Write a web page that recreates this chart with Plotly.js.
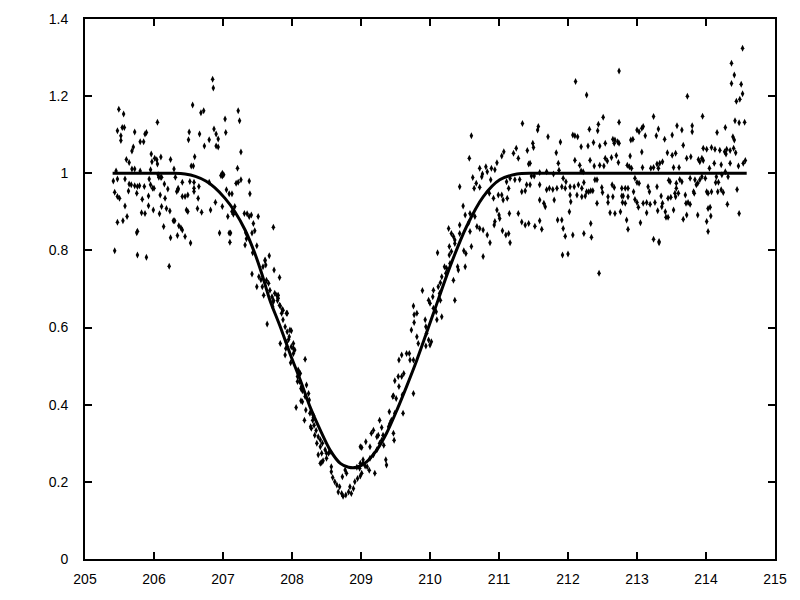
<!DOCTYPE html>
<html>
<head>
<meta charset="utf-8">
<script src="https://cdn.plot.ly/plotly-3.0.1.min.js"></script>
<style>html,body{margin:0;padding:0;background:#fff}#chart{width:800px;height:600px}</style>
</head>
<body>
<div id="chart"></div>
<script>
// Observed points: left plateau and start of descent
var leftX = [206.85,206.86,205.49,205.56,206.05,206.56,206.68,206.72,207.22,207.24,207.03,205.47,205.54,205.57,205.52,205.52,205.72,205.87,205.89,205.80,205.85,205.70,205.68,206.51,206.50,206.66,206.73,206.80,206.87,206.90,206.93,206.90,206.93,207.04,207.26,206.59,205.60,205.64,205.68,205.72,205.96,205.97,206.01,206.04,206.05,206.10,206.24,206.54,206.57,206.29,207.21,207.01,206.99,205.45,205.80,205.95,206.06,206.11,205.41,205.47,205.58,205.64,205.67,205.72,205.76,205.79,205.86,205.93,205.95,205.98,206.00,206.07,206.10,206.15,206.20,206.31,206.35,206.41,206.52,206.58,206.58,206.65,206.80,206.99,206.97,207.05,207.09,207.13,207.19,207.22,207.26,207.38,207.39,205.43,205.47,205.50,205.58,205.63,205.75,205.83,205.92,205.92,205.82,205.87,205.99,206.08,206.09,206.11,206.16,206.18,206.23,206.33,206.35,206.41,206.45,206.49,206.47,206.49,206.58,206.63,206.64,206.69,206.82,206.89,206.99,207.07,207.13,207.15,207.17,207.31,207.35,207.38,207.41,207.44,207.46,207.51,205.47,205.55,205.61,205.75,205.76,206.14,206.28,206.30,206.36,206.39,206.41,206.34,206.24,206.45,206.53,207.09,207.11,206.95,207.10,207.33,207.34,207.42,207.49,207.32,207.43,205.43,205.76,205.89,206.22,207.42,207.52,207.55,207.49];
var leftY = [1.244,1.221,1.166,1.154,1.132,1.177,1.157,1.162,1.162,1.136,1.141,1.110,1.119,1.119,1.097,1.085,1.107,1.102,1.106,1.082,1.082,1.068,1.058,1.107,1.087,1.102,1.071,1.087,1.115,1.102,1.089,1.071,1.068,1.106,1.055,1.043,1.036,1.028,1.011,1.011,1.050,1.030,1.039,1.035,1.024,1.042,1.036,1.019,1.019,1.011,1.013,0.996,0.993,1.006,1.006,1.009,0.996,0.990,0.980,0.985,0.985,0.972,0.970,0.968,0.966,0.968,0.966,0.985,0.970,0.961,0.961,0.990,0.990,0.972,0.959,0.990,0.961,0.977,0.979,0.977,0.961,0.966,0.977,1.000,0.994,0.957,0.947,0.947,0.974,0.977,0.983,0.980,0.947,0.951,0.940,0.935,0.915,0.954,0.948,0.933,0.941,0.916,0.898,0.896,0.905,0.895,0.944,0.914,0.935,0.909,0.902,0.953,0.957,0.940,0.940,0.944,0.905,0.901,0.953,0.909,0.935,0.899,0.905,0.925,0.914,0.888,0.901,0.894,0.914,0.896,0.895,0.888,0.892,0.870,0.851,0.888,0.873,0.877,0.888,0.846,0.850,0.862,0.877,0.877,0.864,0.859,0.853,0.839,0.833,0.836,0.819,0.845,0.845,0.845,0.821,0.846,0.830,0.845,0.812,0.814,0.794,0.799,0.788,0.782,0.759,0.739,0.732,0.724,0.706];

// Observed points: descent, minimum and start of rise
var dipX = [207.73,207.67,207.61,207.74,207.82,207.57,207.59,207.75,207.80,207.79,207.83,207.86,207.92,207.72,207.73,207.64,207.97,207.99,207.83,207.90,207.91,208.02,208.02,208.04,207.98,208.19,208.09,208.12,208.11,208.08,208.14,208.21,208.24,208.13,208.15,208.06,208.20,208.28,208.31,208.30,208.18,208.27,208.28,208.33,208.38,208.36,208.41,208.43,208.38,208.41,208.43,208.45,208.50,208.53,208.55,208.57,208.57,208.59,208.62,208.65,208.69,208.67,208.72,208.74,208.78,208.82,208.84,208.86,208.89,208.91,208.95,208.99,209.01,208.98,208.94,208.79,208.73,208.77,208.99,209.01,209.07,209.13,209.15,209.18,209.23,209.25,209.27,209.30,209.33,209.36,209.37,209.20,209.12,209.09,209.06,209.03,209.41,209.42,209.47,209.48,209.46,209.47,209.51,209.49,209.54,209.59,209.62,209.60,209.61,209.55,209.55,209.59,209.66,209.70,209.71,209.76,209.76,209.73,209.77,209.77,209.81,209.76,209.81,209.83,207.61,207.62,207.58,207.78,207.80,207.82,207.87,207.93,207.95,207.92,208.08,208.11,208.13,208.15,208.19,208.25,208.26,208.31,208.32,208.35,208.41,208.44,208.48,208.50,207.63,207.66,207.68,207.71,207.73,207.85,207.87,207.90,207.93,207.96,207.99,208.02,208.99,209.03,209.13,209.18,209.23,209.27,209.30,209.32,209.40,209.44,209.49];
var dipY = [0.860,0.786,0.773,0.749,0.730,0.706,0.684,0.689,0.684,0.670,0.656,0.647,0.637,0.654,0.671,0.609,0.594,0.592,0.559,0.529,0.546,0.559,0.546,0.542,0.509,0.518,0.490,0.481,0.460,0.460,0.447,0.451,0.429,0.410,0.408,0.393,0.386,0.382,0.373,0.360,0.360,0.343,0.339,0.321,0.317,0.300,0.291,0.274,0.270,0.248,0.250,0.255,0.261,0.274,0.278,0.239,0.226,0.211,0.200,0.192,0.187,0.174,0.170,0.163,0.166,0.174,0.187,0.170,0.183,0.200,0.209,0.215,0.222,0.235,0.238,0.222,0.213,0.231,0.291,0.289,0.304,0.291,0.326,0.334,0.317,0.321,0.360,0.341,0.295,0.257,0.244,0.222,0.230,0.239,0.241,0.248,0.382,0.352,0.326,0.308,0.421,0.423,0.416,0.462,0.473,0.473,0.481,0.425,0.378,0.447,0.516,0.529,0.533,0.533,0.516,0.516,0.429,0.594,0.613,0.633,0.637,0.656,0.576,0.559,0.775,0.762,0.758,0.684,0.676,0.658,0.645,0.637,0.569,0.561,0.473,0.483,0.442,0.436,0.421,0.412,0.378,0.367,0.347,0.333,0.309,0.300,0.283,0.274,0.723,0.715,0.697,0.680,0.667,0.637,0.620,0.602,0.589,0.576,0.550,0.533,0.248,0.257,0.261,0.270,0.283,0.300,0.308,0.321,0.343,0.360,0.378];

// Observed points: rise back to the plateau
var riseX = [209.89,209.93,209.94,209.95,209.98,210.02,210.00,209.94,210.05,210.04,209.98,210.00,210.05,210.09,210.10,210.17,210.15,210.14,210.12,210.15,210.17,210.21,210.24,210.23,210.29,210.28,210.31,210.36,210.40,210.41,210.36,210.34,210.11,210.27,210.31,210.34,210.36,210.28,210.43,210.43,210.48,210.51,210.56,210.58,210.52,210.49,210.60,210.51,210.43,210.57,210.60,210.62,210.64,210.67,210.72,210.72,210.76,210.75,210.81,210.83,210.88,210.89,210.94,210.97,210.58,210.65,210.68,210.72,210.77,210.83,210.87,210.77,210.86,210.92,210.99,211.04,211.06,211.12,211.14,211.00,211.01,210.94,210.93,210.97,211.05,211.10,211.14,211.16,211.15,211.04,211.07,211.11,211.16,211.21,211.23,211.25,211.28,211.30,211.34,211.38,211.41,211.43,211.45,211.49,211.50,211.51,211.56,211.57,211.59,211.59,211.65,211.67,211.69,211.71,211.73,211.78,211.80,211.83,211.84,211.86,211.87,211.85,211.33,211.28,211.33,211.38,211.43,211.52,211.59,211.62,211.40,211.45,211.47,211.59,211.69,211.79];
var riseY = [0.696,0.620,0.602,0.585,0.568,0.563,0.555,0.552,0.697,0.680,0.671,0.663,0.650,0.641,0.620,0.628,0.671,0.689,0.706,0.716,0.732,0.758,0.754,0.741,0.766,0.788,0.797,0.827,0.758,0.749,0.671,0.723,0.794,0.857,0.844,0.836,0.818,0.810,0.866,0.844,0.915,0.892,0.872,0.849,0.792,0.799,0.810,0.758,0.965,1.039,1.097,0.989,0.961,0.974,0.964,1.013,0.998,0.991,1.017,1.004,0.983,1.013,1.009,1.027,0.896,0.888,0.862,0.857,0.853,0.840,0.820,0.784,0.948,0.935,0.944,0.944,0.931,0.935,0.961,0.892,0.883,0.875,0.866,0.905,0.851,0.840,0.844,0.820,0.896,1.045,1.056,0.978,0.987,1.052,0.983,1.065,1.039,0.984,1.129,0.955,1.059,1.024,1.026,1.078,1.067,0.993,1.112,1.121,0.970,0.931,0.922,0.913,0.957,1.095,0.961,0.958,0.931,1.053,0.961,1.026,1.008,0.879,0.952,0.896,0.874,0.866,0.870,0.863,0.877,0.855,0.970,0.970,0.993,1.002,1.004,0.998];

// Observed points: right plateau
var rightX = [212.11,212.27,212.74,212.51,212.44,212.43,212.31,212.74,213.24,213.31,212.07,212.10,212.14,211.89,212.19,212.29,212.37,212.46,212.54,212.65,212.68,212.72,212.74,212.91,212.94,213.00,213.03,213.07,213.09,213.12,213.28,212.67,212.10,212.17,212.32,212.38,212.46,212.52,212.54,212.57,212.63,212.70,212.73,212.90,213.07,212.86,212.89,212.92,213.08,213.20,213.24,213.29,213.31,212.19,212.22,211.93,211.97,211.91,211.96,212.03,212.09,212.15,212.20,212.23,212.27,212.30,212.33,212.36,212.39,212.42,212.49,212.50,212.64,212.67,212.78,212.83,212.87,212.97,213.00,213.03,213.16,213.18,213.29,212.03,212.13,212.20,212.25,212.58,212.65,212.78,212.80,212.87,212.95,213.00,213.09,213.14,213.19,213.26,212.04,212.42,212.58,212.79,212.83,212.97,212.61,212.68,212.76,213.02,213.14,213.30,212.02,211.93,211.96,212.07,212.23,212.33,212.34,212.85,212.87,213.05,213.24,213.32,211.92,212.00,212.45,211.91,
 214.53,214.37,214.41,214.37,214.51,214.53,214.44,214.49,214.42,214.48,214.56,213.95,213.73,214.28,214.39,214.41,214.16,213.80,213.80,213.58,213.65,213.40,213.51,213.67,213.44,213.51,213.56,213.72,213.78,213.96,214.01,214.08,214.13,214.20,214.27,214.30,214.29,214.35,214.40,214.43,214.54,214.57,213.33,213.37,213.53,213.61,213.89,213.91,213.94,213.96,214.12,214.22,214.35,214.47,213.46,213.48,213.57,213.62,213.65,213.77,213.84,213.86,213.88,213.91,213.99,214.05,214.15,214.23,214.28,214.32,213.94,213.57,213.55,213.60,213.70,213.82,213.83,214.01,214.03,214.08,214.14,214.18,214.17,214.22,214.25,214.45,213.35,213.37,213.36,213.45,213.49,213.56,213.71,213.74,213.77,214.03,214.06,214.07,214.01,214.03,213.88,213.72,213.67,213.53,213.41,213.42,213.45,214.31,214.48,213.32];
var rightY = [1.238,1.203,1.265,1.145,1.127,1.110,1.114,1.132,1.147,1.115,1.099,1.097,1.095,1.081,1.069,1.071,1.080,1.071,1.078,1.088,1.086,1.082,1.078,1.086,1.088,1.112,1.108,1.117,1.121,1.097,1.097,1.078,1.034,1.021,1.034,1.019,1.021,1.019,1.039,1.032,1.041,1.046,1.028,1.045,1.055,1.021,1.017,1.013,1.015,1.013,1.015,1.024,1.013,1.006,1.004,0.987,0.978,0.965,0.961,0.965,0.965,0.970,0.961,0.976,0.952,0.952,0.955,0.955,0.983,0.983,0.963,0.950,0.970,0.963,0.961,0.961,0.961,0.987,0.976,0.974,0.965,0.952,0.965,0.944,0.944,0.939,0.941,0.939,0.939,0.941,0.941,0.939,0.952,0.924,0.922,0.924,0.920,0.924,0.926,0.922,0.924,0.924,0.922,0.932,0.898,0.896,0.900,0.912,0.898,0.903,0.900,0.857,0.837,0.840,0.844,0.870,0.834,0.879,0.855,0.872,0.829,0.820,0.788,0.791,0.741,0.879,
 1.324,1.285,1.255,1.233,1.231,1.206,1.187,1.192,1.136,1.131,1.132,1.148,1.200,1.119,1.095,1.086,1.106,1.123,1.108,1.123,1.112,1.088,1.099,1.073,1.053,1.047,1.052,1.039,1.043,1.065,1.062,1.067,1.062,1.060,1.056,1.062,1.050,1.059,1.065,1.053,1.026,1.033,1.026,1.030,1.015,1.015,1.036,1.030,1.039,1.033,1.026,1.022,1.026,1.019,0.982,0.978,0.974,0.984,0.978,0.987,0.983,0.970,0.974,0.983,0.987,1.013,0.991,0.996,1.004,0.991,0.991,0.961,0.948,0.948,0.944,0.952,0.948,0.952,0.948,0.952,0.976,0.977,0.952,0.957,0.950,0.958,0.941,0.922,0.913,0.935,0.938,0.939,0.922,0.924,0.920,0.909,0.912,0.889,0.875,0.849,0.892,0.892,0.881,0.905,0.900,0.886,0.886,0.920,0.896,0.823];

// Fitted curve
var fitX = [205.40,206.00,206.30,206.45,206.60,206.75,206.88,207.03,207.17,207.32,207.46,207.56,207.68,207.83,207.97,208.12,208.26,208.41,208.55,208.70,208.82,208.94,209.08,209.23,209.37,209.52,209.66,209.81,210.05,210.29,210.53,210.77,211.01,211.26,211.50,212.50,213.50,214.59];
var fitY = [1.0,1.0,1.0,0.998,0.992,0.980,0.963,0.935,0.901,0.853,0.793,0.741,0.671,0.602,0.533,0.464,0.395,0.334,0.283,0.248,0.238,0.238,0.252,0.283,0.326,0.386,0.447,0.516,0.637,0.758,0.862,0.939,0.983,0.998,1.0,1.0,1.0,1.0];

var xTicks = [205,206,207,208,209,210,211,212,213,214,215];
var yTicks = [0,0.2,0.4,0.6,0.8,1,1.2,1.4];
var yTickText = ['0','0.2','0.4','0.6','0.8','1','1.2','1.4'];

var obsX = leftX.concat(dipX, riseX, rightX);
var obsY = leftY.concat(dipY, riseY, rightY);

var traces = [
  {x: obsX, y: obsY, type: 'scatter', mode: 'markers',
   marker: {symbol: 'diamond-tall', size: 5, color: '#000', line: {width: 0}},
   hoverinfo: 'skip'},
  {x: fitX, y: fitY, type: 'scatter', mode: 'lines',
   line: {color: '#000', width: 3, shape: 'spline', smoothing: 0.8},
   hoverinfo: 'skip'}
];

var axisCommon = {
  showgrid: false, zeroline: false, showline: true, linecolor: '#000', linewidth: 2,
  mirror: 'ticks', ticks: 'inside', ticklen: 7, tickwidth: 2, tickcolor: '#000',
  tickfont: {family: 'Liberation Sans, Arial, sans-serif', size: 14, color: '#000'}
};

var layout = {
  width: 800, height: 600,
  paper_bgcolor: '#fff', plot_bgcolor: '#fff',
  showlegend: false,
  margin: {l: 85, r: 25, t: 19, b: 41},
  xaxis: Object.assign({}, axisCommon, {range: [205, 215], tickvals: xTicks, ticktext: xTicks.map(String), ticklabelstandoff: 6}),
  yaxis: Object.assign({}, axisCommon, {range: [0, 1.4], tickvals: yTicks, ticktext: yTickText, ticklabelstandoff: 12})
};

Plotly.newPlot('chart', traces, layout, {staticPlot: true, displayModeBar: false});
</script>
</body>
</html>
